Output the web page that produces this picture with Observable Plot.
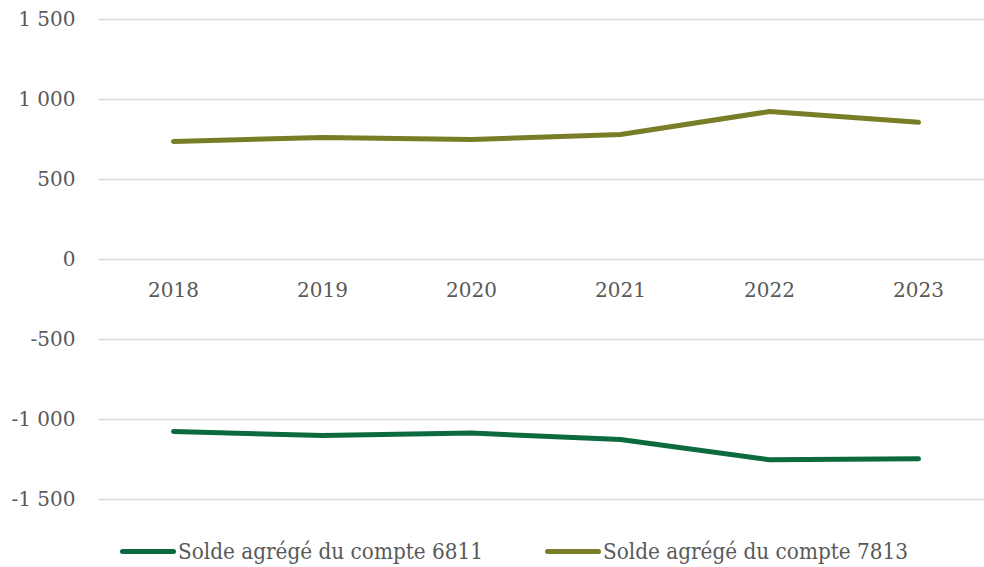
<!DOCTYPE html>
<html>
<head>
<meta charset="utf-8">
<script src="https://cdn.jsdelivr.net/npm/d3@7"></script>
<script src="https://cdn.jsdelivr.net/npm/@observablehq/plot@0.6"></script>
<style>
  html, body { margin: 0; padding: 0; background: #fff; }
  #chart { width: 984px; }
  .legend { position: relative; height: 37px; width: 984px; font-family: "DejaVu Serif", "Liberation Serif", serif; font-stretch: condensed; color: #595959; }
  .legend .item { position: absolute; top: 0; height: 42px; display: flex; align-items: center; }
  .legend .sw { width: 56px; height: 5px; border-radius: 3px; margin-right: 2px; }
  .legend .lbl { font-size: 23px; white-space: nowrap; display: inline-block; transform-origin: left center; }
</style>
</head>
<body>
<div id="chart"></div>
<script>
const years = ["2018", "2019", "2020", "2021", "2022", "2023"];
const compte6811 = [-1075, -1100, -1085, -1125, -1252, -1246];
const compte7813 = [738, 762, 750, 781, 925, 858];
const yTicks = [-1500, -1000, -500, 0, 500, 1000, 1500];
const seriesNames = ["Solde agrégé du compte 6811", "Solde agrégé du compte 7813"];
const seriesColors = ["#0b6b3f", "#787d27"];

const rows = [];
years.forEach((y, i) => {
  rows.push({year: y, value: compte6811[i], series: seriesNames[0]});
  rows.push({year: y, value: compte7813[i], series: seriesNames[1]});
});

const frLocale = d3.formatLocale({decimal: ",", thousands: " ", grouping: [3], currency: ["", " €"], minus: "-"});
const fmt = frLocale.format(",d");

const plot = Plot.plot({
  width: 984,
  height: 530,
  marginTop: 19,
  marginBottom: 31,
  marginLeft: 98,
  marginRight: 0,
  style: {fontFamily: "'DejaVu Serif', serif", fontSize: "20px", color: "#595959", background: "#fff"},
  x: {type: "point", domain: years, padding: 0, insetLeft: 73, insetRight: 65, axis: null},
  y: {domain: [-1500, 1500], axis: null},
  color: {domain: seriesNames, range: seriesColors},
  marks: [
    Plot.ruleY(yTicks, {stroke: "#d9d9d9", strokeWidth: 1.4}),
    Plot.axisY(yTicks, {tickSize: 0, tickPadding: 23, tickFormat: fmt, fill: "#595959", fontSize: 20, label: null}),
    Plot.text(years, {x: d => d, y: () => 0, dy: 31, text: d => d, fill: "#595959", fontSize: 20, textAnchor: "middle"}),
    Plot.line(rows, {x: "year", y: "value", z: "series", stroke: "series", strokeWidth: 5, strokeLinecap: "round", strokeLinejoin: "round"})
  ]
});
document.getElementById("chart").appendChild(plot);

const legend = document.createElement("div");
legend.className = "legend";
const lefts = [120, 545];
const textWidth = 305;
seriesNames.forEach((name, i) => {
  const item = document.createElement("div");
  item.className = "item";
  item.style.left = lefts[i] + "px";
  const sw = document.createElement("span");
  sw.className = "sw";
  sw.style.background = seriesColors[i];
  const lbl = document.createElement("span");
  lbl.className = "lbl";
  lbl.textContent = name;
  item.appendChild(sw);
  item.appendChild(lbl);
  legend.appendChild(item);
});
document.body.appendChild(legend);
legend.querySelectorAll(".lbl").forEach(l => {
  const w = l.getBoundingClientRect().width;
  if (w > 0) l.style.transform = `scaleX(${textWidth / w})`;
});
</script>
</body>
</html>
